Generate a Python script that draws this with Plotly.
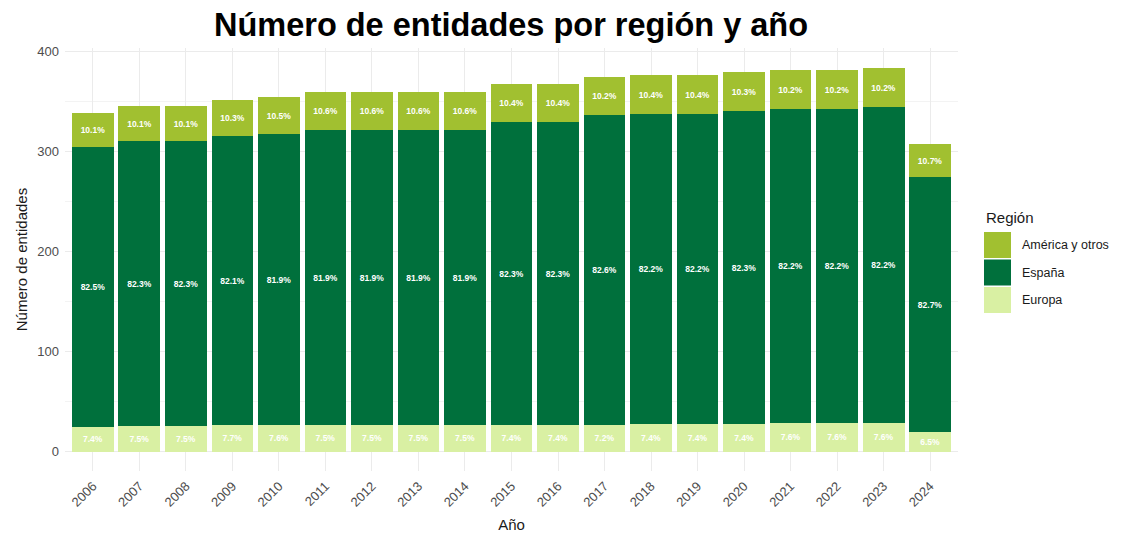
import plotly.graph_objects as go

years = [str(y) for y in range(2006, 2025)]
europa = [25, 26, 26, 27, 27, 27, 27, 27, 27, 27, 27, 27, 28, 28, 28, 29, 29, 29, 20]
espana = [279, 284, 284, 288, 290, 294, 294, 294, 294, 302, 302, 309, 309, 309, 312, 313, 313, 315, 254]
america = [34, 35, 35, 36, 37, 38, 38, 38, 38, 38, 38, 38, 39, 39, 39, 39, 39, 39, 33]

series = [("Europa", europa, "#D9F0A3"),
          ("España", espana, "#00703C"),
          ("América y otros", america, "#A1C030")]

totals = [a + b + c for a, b, c in zip(europa, espana, america)]

W, H = 1125, 538
OFF = 8  # page body margin
ML, MT = 65 - OFF, 48 - OFF
MR, MB = W - 958 + OFF, H - 471 + OFF
PW, PH = W - ML - MR, H - MT - MB


def px(x):
    return (x - OFF - ML) / PW


def py(y):
    return (H - MB - (y - OFF)) / PH


fig = go.Figure()
for name, vals, col in series:
    labels = [f"{v / t * 100:.1f}%" for v, t in zip(vals, totals)]
    fig.add_trace(go.Bar(
        x=years, y=vals, name=name, marker=dict(color=col, line=dict(width=0)),
        text=labels, texttemplate="<b>%{text}</b>", textposition="inside",
        insidetextanchor="middle", textangle=0,
        textfont=dict(color="white", size=8.5, family="Liberation Sans"),
        width=0.9, showlegend=False, hoverinfo="x+y+name",
    ))

# manual legend (ggplot-style)
shapes = []
annotations = [dict(text="Región", x=px(984), y=py(217), xref="paper", yref="paper",
                    xanchor="left", yanchor="middle", showarrow=False,
                    font=dict(size=15, color="#1a1a1a", family="Liberation Sans"))]
legend_items = [("América y otros", "#A1C030"), ("España", "#00703C"), ("Europa", "#D9F0A3")]
for i, (name, col) in enumerate(legend_items):
    top = 232 + i * 27.5
    shapes.append(dict(type="rect", xref="paper", yref="paper",
                       x0=px(984), x1=px(1011), y0=py(top), y1=py(top + 26),
                       fillcolor=col, line=dict(width=0)))
    annotations.append(dict(text=name, x=px(1020), y=py(top + 13), xref="paper", yref="paper",
                            xanchor="left", yanchor="middle", showarrow=False,
                            font=dict(size=12.5, color="#1a1a1a", family="Liberation Sans")))

fig.update_layout(
    barmode="stack", bargap=0.1,
    width=W, height=H,
    margin=dict(l=ML, r=MR, t=MT, b=MB),
    plot_bgcolor="white", paper_bgcolor="white",
    font=dict(family="Liberation Sans", color="#1a1a1a"),
    title=dict(text="<b>Número de entidades por región y año</b>", x=px(511), xref="paper",
               xanchor="center", y=1 - (25 - OFF) / H, yanchor="middle",
               font=dict(size=32.5, color="black", family="Liberation Sans")),
    shapes=shapes, annotations=annotations,
)
fig.update_xaxes(
    type="category", range=[-0.6, 18.6], showgrid=True, gridcolor="#ebebeb", gridwidth=1,
    tickangle=-45, tickfont=dict(size=13, color="#4d4d4d"), ticks="", zeroline=False,
    ticklabelstandoff=4,
    title=dict(text="Año", font=dict(size=15, color="#1a1a1a"), standoff=10),
    showline=False,
)
fig.update_yaxes(
    range=[-19.2, 403.2], tickvals=[0, 100, 200, 300, 400], showgrid=True,
    gridcolor="#ebebeb", gridwidth=1, zeroline=False,
    minor=dict(tickvals=[50, 150, 250, 350], showgrid=True, gridcolor="#f3f3f3", gridwidth=0.6),
    tickfont=dict(size=13, color="#4d4d4d"), ticks="", ticklabelstandoff=5,
    title=dict(text="Número de entidades", font=dict(size=15, color="#1a1a1a"), standoff=6),
)

fig.write_html("out.html")
